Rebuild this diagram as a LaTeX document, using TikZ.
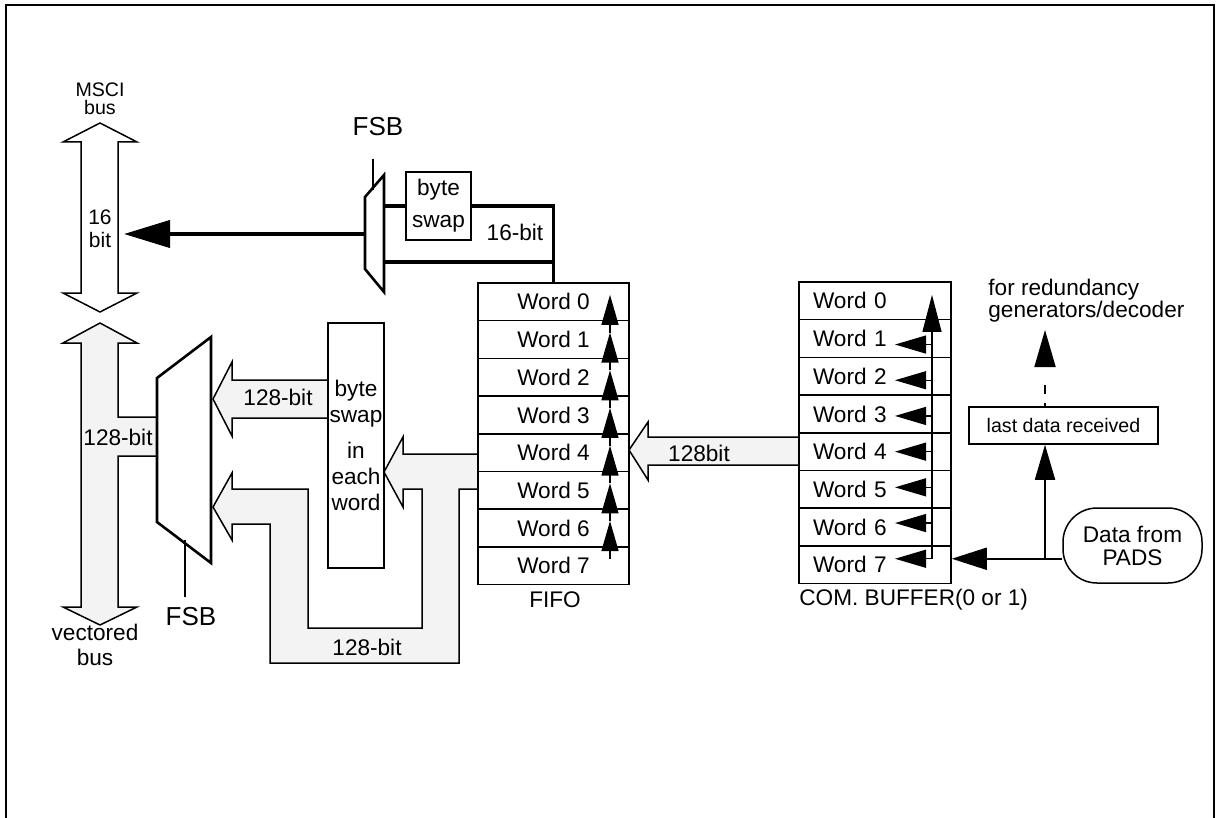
\documentclass[tikz,border=0pt]{standalone}
\usepackage{fontspec}
\setmainfont{Liberation Sans}
\usetikzlibrary{arrows.meta,positioning,calc}
\definecolor{BusGray}{HTML}{F3F3F3}

\begin{document}
\begin{tikzpicture}[x=0.5pt,y=-0.5pt,
  lbl/.style={inner sep=0pt,font=\fontsize{11.3}{13}\selectfont},
  wordbox/.style={draw,line width=0.75pt,minimum width=75.5pt,minimum height=18.85pt,inner sep=0pt,font=\fontsize{11.3}{13}\selectfont},
  bus/.style={draw,line width=0.75pt,fill=BusGray},
  mux/.style={draw,line width=1.3pt,fill=white},
  wide/.style={line width=1.7pt}]
  \useasboundingbox (0,0) rectangle (1220,818);
  \draw[line width=1pt] (6,830) |- (1214,5) -- (1214,830);

  % buses
  \draw[bus,fill=white] (100,123) -- (137,142) -- (118,142) -- (118,293) -- (137,293) -- (100,312)
    -- (63,293) -- (81,293) -- (81,142) -- (63,142) -- cycle;
  \node[inner sep=0pt,align=center,font=\fontsize{9.8}{9}\selectfont] (msci) at (100,99) {MSCI\\bus};
  \node[inner sep=0pt,align=center,font=\fontsize{10.5}{11.5}\selectfont] (b16) at (100,229) {16\\bit};
  \draw[bus] (100,323) -- (137,343) -- (118,343) -- (118,417) -- (157,417) -- (157,456) -- (118,456)
    -- (118,607) -- (137,607) -- (100,625) -- (63,607) -- (81,607) -- (81,343) -- (63,343) -- cycle;
  \node[lbl] (b128) at (118,437) {128-bit};
  \node[lbl,align=center,font=\fontsize{11.3}{12.5}\selectfont] (vbus) at (95,645) {vectored\\bus};

  % 128-bit paths
  \draw[bus] (478,454) -- (403,454) -- (403,437) -- (384,472) -- (403,507) -- (403,489) -- (422,489) -- (422,628)
    -- (308,628) -- (308,489) -- (232,489) -- (232,473) -- (213,507) -- (232,540) -- (232,524) -- (270,524)
    -- (270,663) -- (459,663) -- (459,489) -- (478,489);
  \draw[bus] (328,380) -- (232,380) -- (232,362) -- (213,399) -- (232,436) -- (232,418) -- (328,418);
  \draw[bus] (799,437) -- (648,437) -- (648,422) -- (629,450) -- (648,480) -- (648,465) -- (799,465);
  \node[lbl] (w128a) at (278,397) {128-bit};
  \node[lbl] (w128b) at (367,647) {128-bit};
  \node[lbl] (w128c) at (699,453) {128bit};

  % multiplexers
  \draw[mux] (365,197) -- (384,175) -- (384,292) -- (365,269) -- cycle;
  \draw[mux] (157,378) -- (211,337) -- (211,563) -- (157,522) -- cycle;
  \node[inner sep=0pt,font=\fontsize{13}{15}\selectfont] (fsba) at (378,127) {FSB};
  \node[inner sep=0pt,font=\fontsize{13}{15}\selectfont] (fsbb) at (191,617) {FSB};
  \draw[line width=0.7pt] ($(fsba.south)+(-5,22)$) -- ++(0,31);
  \draw[line width=0.7pt] ($(fsbb.north)+(-6,-10)$) -- ++(0,-57);

  % byte swap boxes
  \node[draw,fill=white,line width=0.75pt,minimum width=32.5pt,minimum height=34pt,inner sep=0pt,align=center,
    font=\fontsize{11.3}{16}\selectfont] (bsa) at (438.5,206) {byte\\swap};
  \node[draw,fill=white,line width=0.75pt,minimum width=28pt,minimum height=122.5pt,inner sep=0pt,align=center,
    font=\fontsize{11.3}{13}\selectfont] (bsb) at (356,445.5) {byte\\swap\\[5pt]in\\each\\word};

  % FIFO and COM buffer
  \foreach \i in {0,...,7} {
    \node[wordbox] (f\i) at (553.5,{283+37.7*(\i+0.5)}) {Word \i};
    \node[wordbox,text width=62pt,inner xsep=7pt,align=left] (c\i) at (875,{282+37.7*(\i+0.5)}) {Word \i};
  }
  \node[lbl,anchor=base] (fifo) at (555,607) {FIFO};
  \node[lbl,anchor=base west] (comb) at (799,605) {COM. BUFFER(0 or 1)};

  \foreach \i [evaluate=\i as \j using int(\i+1)] in {0,...,6}
    \draw[line width=0.7pt,-{Triangle[length=15pt,width=8.5pt]}] ($(f\j.center)+(56.5,-7)$) -- ($(f\i.center)+(56.5,-7)$);
  \draw[line width=0.6pt,-{Triangle[length=18.5pt,width=9.5pt]}] ($(c7.center)+(57,-6)$) -- ($(c0.center)+(57,-6)$);
  \foreach \i in {1,...,7}
    \draw[line width=0.6pt,-{Triangle[length=15.5pt,width=9pt]}] ($(c\i.center)+(57,8-2*\i)$) -- ($(c\i.center)+(20,8-2*\i)$);

  % 16-bit path
  \coordinate (muxa) at (365,234);
  \coordinate (mscin) at (124,234);
  \draw[line width=2pt,-{Triangle[length=23pt,width=13.5pt]}] (muxa) -- (mscin);
  \draw[wide] (384,206) -- (bsa.west);
  \draw[wide] (bsa.east) -| (f0.north);
  \draw[wide] (384,262) -- (553.5,262);
  \node[lbl] (w16) at (515,232) {16-bit};

  % input side
  \node[draw,line width=0.75pt,rounded corners=17pt,minimum width=69.5pt,minimum height=37.5pt,inner sep=0pt,align=center,
    font=\fontsize{11.3}{11.5}\selectfont] (pads) at (1132.5,545.5) {Data from\\PADS};
  \node[draw,line width=0.75pt,minimum width=94.5pt,minimum height=18.5pt,inner sep=0pt,
    font=\fontsize{9.8}{11}\selectfont] (last) at (1063.5,425.5) {last data received};
  \coordinate (tap) at (1045,558.75);
  \coordinate (redu) at (1045,330);
  \draw[line width=0.9pt,-{Triangle[length=17.5pt,width=11pt]}] (pads.west |- tap) -- (c7.east |- tap);
  \draw[line width=0.9pt,-{Triangle[length=17.5pt,width=10pt]}] (tap) -- (tap |- last.south);
  \draw[line width=0.9pt,dash pattern=on 1.5pt off 4.5pt on 4.5pt off 20pt,-{Triangle[length=18.5pt,width=10.5pt]}]
    (tap |- last.north) -- (redu);
  \node[lbl,align=left,anchor=north west,font=\fontsize{11.3}{11}\selectfont] (redtxt) at (988,279) {for redundancy\\generators/decoder};
\end{tikzpicture}
\end{document}
